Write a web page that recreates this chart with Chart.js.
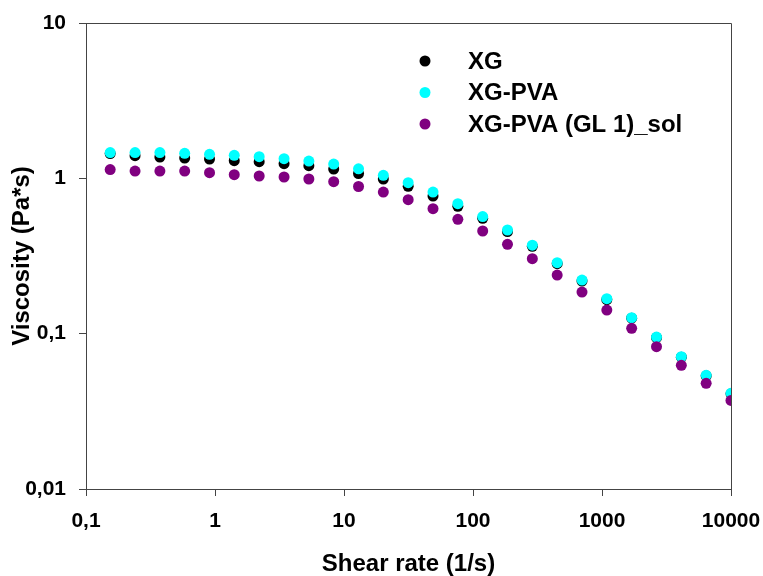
<!DOCTYPE html>
<html>
<head>
<meta charset="utf-8">
<script src="https://cdn.jsdelivr.net/npm/chart.js@4.4.1/dist/chart.umd.min.js"></script>
<style>
  html, body { margin: 0; padding: 0; background: #ffffff; }
  #wrap { width: 763px; height: 576px; }
</style>
</head>
<body>
<div id="wrap"><canvas id="c" width="763" height="576"></canvas></div>
<script>
// Shear rate (1/s)
const shearRate = [0.154, 0.240, 0.374, 0.582, 0.907, 1.41, 2.20, 3.43, 5.34, 8.32,
  12.96, 20.18, 31.44, 48.98, 76.30, 118.9, 185.1, 288.4, 449.3, 699.8,
  1090, 1698, 2646, 4121, 6419, 10000];

// Viscosity (Pa*s)
const viscXG = [1.443, 1.400, 1.372, 1.351, 1.331, 1.300, 1.281, 1.243, 1.207, 1.148,
  1.074, 0.990, 0.888, 0.769, 0.660, 0.553, 0.454, 0.365, 0.2823, 0.2182,
  0.1655, 0.1258, 0.0944, 0.0706, 0.0535, 0.0410];
const viscXGPVA = [1.464, 1.464, 1.464, 1.449, 1.427, 1.406, 1.379, 1.339, 1.292, 1.236,
  1.151, 1.045, 0.938, 0.816, 0.687, 0.567, 0.465, 0.371, 0.2866, 0.2214,
  0.1680, 0.1268, 0.0951, 0.0711, 0.0539, 0.0413];
const viscGLsol = [1.138, 1.114, 1.114, 1.114, 1.088, 1.056, 1.035, 1.020, 0.990, 0.952,
  0.886, 0.816, 0.729, 0.638, 0.545, 0.458, 0.376, 0.304, 0.2384, 0.1853,
  0.1419, 0.1082, 0.0825, 0.0625, 0.0479, 0.0372];

const seriesNames = ['XG', 'XG-PVA', 'XG-PVA (GL 1)_sol'];
const seriesColors = ['#000000', '#00FFFF', '#800080'];

const xTickValues = [0.1, 1, 10, 100, 1000, 10000];
const xTickLabels = ['0,1', '1', '10', '100', '1000', '10000'];
const yTickValues = [0.01, 0.1, 1, 10];
const yTickLabels = ['0,01', '0,1', '1', '10'];

const axisTitleX = 'Shear rate (1/s)';
const axisTitleY = 'Viscosity (Pa*s)';

const FONT = "'Liberation Sans', Arial, sans-serif";
const AXIS_COLOR = '#444444';

function toPoints(xs, ys) { return xs.map((x, i) => ({ x: x, y: ys[i] })); }

const seriesValues = [viscXG, viscXGPVA, viscGLsol];
const datasets = seriesNames.map((name, i) => ({
  label: name,
  data: toPoints(shearRate, seriesValues[i]),
  backgroundColor: seriesColors[i],
  borderColor: seriesColors[i],
  pointRadius: 5.5,
  pointHoverRadius: 5.5,
  pointBorderWidth: 0,
  showLine: false,
  order: 3 - i
}));

const frameAndLegend = {
  id: 'frameAndLegend',
  afterDraw(chart) {
    const ctx = chart.ctx;
    const a = chart.chartArea;
    ctx.save();
    ctx.strokeStyle = AXIS_COLOR;
    ctx.lineWidth = 1;
    ctx.beginPath();
    ctx.moveTo(Math.round(a.left) + 0.5, Math.round(a.top) + 0.5);
    ctx.lineTo(Math.round(a.right) + 0.5, Math.round(a.top) + 0.5);
    ctx.lineTo(Math.round(a.right) + 0.5, Math.round(a.bottom) + 0.5);
    ctx.stroke();

    // legend
    const lx = 425, ly0 = 61, dy = 31.5, tx = 468;
    ctx.font = "bold 24px " + FONT;
    ctx.textBaseline = 'middle';
    ctx.textAlign = 'left';
    chart.data.datasets.forEach((ds, i) => {
      const y = ly0 + i * dy;
      ctx.fillStyle = ds.backgroundColor;
      ctx.beginPath();
      ctx.arc(lx, y, 5.5, 0, Math.PI * 2);
      ctx.fill();
      ctx.fillStyle = '#000000';
      ctx.fillText(ds.label, tx, y + 1);
    });
    ctx.restore();
  }
};

new Chart(document.getElementById('c'), {
  type: 'scatter',
  data: { datasets: datasets },
  options: {
    responsive: false,
    animation: false,
    devicePixelRatio: 1,
    layout: { padding: { top: 23, right: 32, left: 0, bottom: 0 } },
    plugins: {
      legend: { display: false },
      tooltip: { enabled: false }
    },
    scales: {
      x: {
        type: 'logarithmic',
        min: 0.1,
        max: 10000,
        afterFit(s) { s.height = 87; s.paddingLeft = 0; s.paddingRight = 0; },
        afterBuildTicks(s) { s.ticks = xTickValues.map(v => ({ value: v })); },
        border: { display: true, color: AXIS_COLOR, width: 1 },
        grid: { display: true, drawOnChartArea: false, drawTicks: true, tickLength: 7, color: AXIS_COLOR, lineWidth: 1 },
        ticks: {
          autoSkip: false,
          maxRotation: 0,
          padding: 13,
          color: '#000000',
          font: { family: FONT, size: 21, weight: 'bold' },
          callback(v) { const k = xTickValues.indexOf(v); return k >= 0 ? xTickLabels[k] : ''; }
        },
        title: {
          display: true,
          text: axisTitleX,
          color: '#000000',
          font: { family: FONT, size: 24, weight: 'bold' },
          padding: { top: 0, bottom: -3 }
        }
      },
      y: {
        type: 'logarithmic',
        min: 0.01,
        max: 10,
        afterFit(s) { s.width = 86; s.paddingTop = 0; s.paddingBottom = 0; },
        afterBuildTicks(s) { s.ticks = yTickValues.map(v => ({ value: v })); },
        border: { display: true, color: AXIS_COLOR, width: 1 },
        grid: { display: true, drawOnChartArea: false, drawTicks: true, tickLength: 7, color: AXIS_COLOR, lineWidth: 1 },
        ticks: {
          autoSkip: false,
          padding: 13,
          color: '#000000',
          font: { family: FONT, size: 21, weight: 'bold' },
          callback(v) { const k = yTickValues.indexOf(v); return k >= 0 ? yTickLabels[k] : ''; }
        },
        title: {
          display: true,
          text: axisTitleY,
          color: '#000000',
          font: { family: FONT, size: 24, weight: 'bold' },
          padding: { top: 8, bottom: 0 }
        }
      }
    }
  },
  plugins: [frameAndLegend]
});
</script>
</body>
</html>
